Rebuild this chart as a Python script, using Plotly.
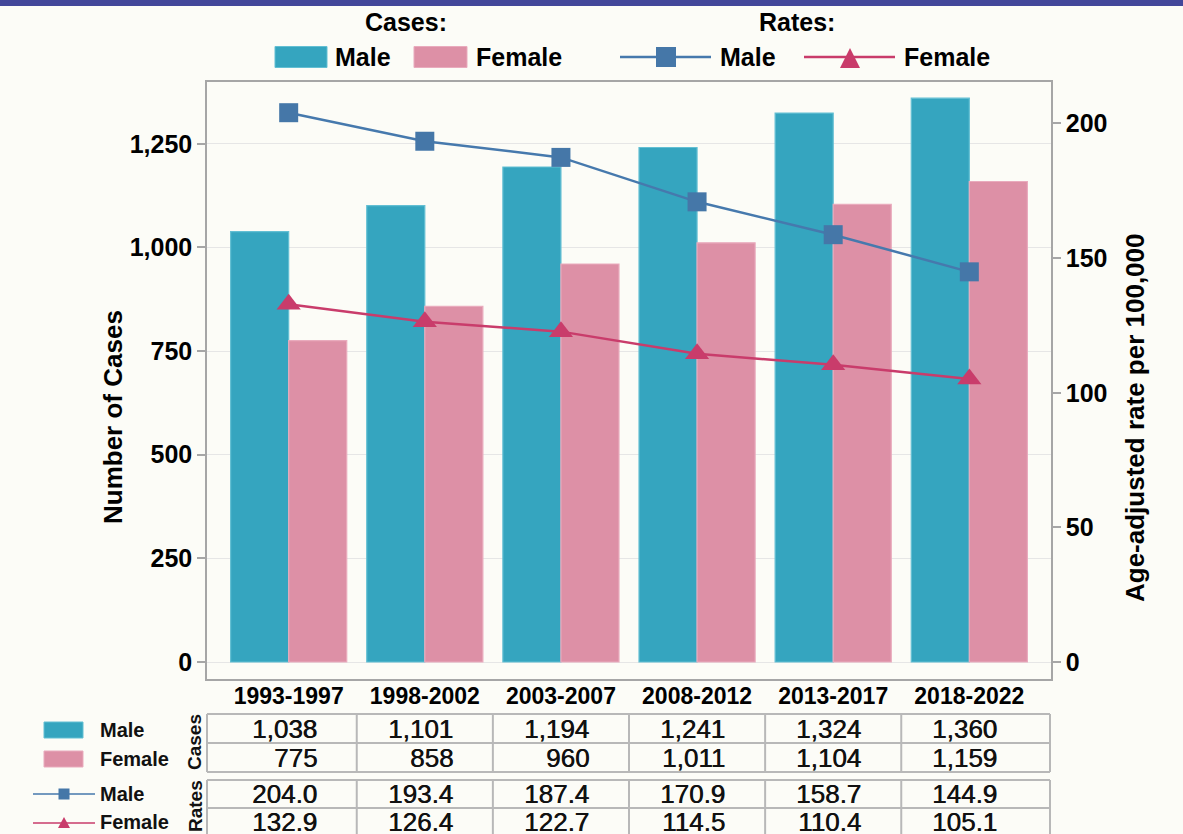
import plotly.graph_objects as go

# ---------------- data ----------------
periods = ["1993-1997", "1998-2002", "2003-2007", "2008-2012", "2013-2017", "2018-2022"]
cases_male = [1038, 1101, 1194, 1241, 1324, 1360]
cases_female = [775, 858, 960, 1011, 1104, 1159]
rate_male = [204.0, 193.4, 187.4, 170.9, 158.7, 144.9]
rate_female = [132.9, 126.4, 122.7, 114.5, 110.4, 105.1]
left_ticks = [0, 250, 500, 750, 1000, 1250]
right_ticks = [0, 50, 100, 150, 200]

# ---------------- geometry / style ----------------
W, H = 1183, 834
L, R, T, B = 207, 1051, 82, 679


def X(px):
    return (px - L) / (R - L)


def Y(py):
    return (B - py) / (B - T)


TEAL = "#35a5bf"
TEAL_EDGE = "#63bfd3"
PINK = "#dd90a6"
PINK_EDGE = "#e9abbd"
BLUE = "#4679ad"
BLUE_MK = "#4577a8"
RED = "#c93c6b"
BG = "#fcfcf7"
FRAME = "#a6a6a6"
TBL = "#b8b8b8"
FONT = "Liberation Sans, Arial, sans-serif"
BOLD = dict(family=FONT, size=25, color="#000000", weight="bold")
TITLE = dict(family=FONT, size=26, color="#000000", weight="bold")

fig = go.Figure()
fig.add_trace(go.Bar(x=periods, y=cases_male, name="Male", yaxis="y",
                     marker=dict(color=TEAL, line=dict(color=TEAL_EDGE, width=1.2)),
                     showlegend=False, hoverinfo="x+y"))
fig.add_trace(go.Bar(x=periods, y=cases_female, name="Female", yaxis="y",
                     marker=dict(color=PINK, line=dict(color=PINK_EDGE, width=1.2)),
                     showlegend=False, hoverinfo="x+y"))
fig.add_trace(go.Scatter(x=periods, y=rate_male, name="Male rate", yaxis="y2",
                         mode="lines+markers", line=dict(color=BLUE, width=2.5),
                         marker=dict(symbol="square", size=19, color=BLUE_MK),
                         showlegend=False))
fig.add_trace(go.Scatter(x=periods, y=rate_female, name="Female rate", yaxis="y2",
                         mode="lines+markers", line=dict(color=RED, width=2.5),
                         marker=dict(symbol="triangle-up", size=21, color=RED),
                         showlegend=False))

shapes = []
annotations = []

# top purple band
shapes.append(dict(type="rect", xref="paper", yref="paper", x0=X(0), x1=X(W), y0=Y(0), y1=Y(6),
                   fillcolor="#43479a", line=dict(width=0), layer="above"))

# ---------------- top legend ----------------
annotations.append(dict(text="Cases:", x=X(406), y=Y(22), xref="paper", yref="paper",
                        showarrow=False, font=BOLD, xanchor="center", yanchor="middle"))
annotations.append(dict(text="Rates:", x=X(797), y=Y(22), xref="paper", yref="paper",
                        showarrow=False, font=BOLD, xanchor="center", yanchor="middle"))
ly = 57
for (x0, x1, col, edge) in [(275, 327, TEAL, TEAL_EDGE), (414, 467, PINK, PINK_EDGE)]:
    shapes.append(dict(type="rect", xref="paper", yref="paper", x0=X(x0), x1=X(x1),
                       y0=Y(ly + 10.5), y1=Y(ly - 10.5), fillcolor=col,
                       line=dict(color=edge, width=1)))
for (xl, txt) in [(333, "Male"), (474, "Female"), (718, "Male"), (902, "Female")]:
    annotations.append(dict(text=txt, x=X(xl), y=Y(ly), xref="paper", yref="paper",
                            showarrow=False, font=BOLD, xanchor="left", yanchor="middle"))
# rate legend lines + markers
shapes.append(dict(type="line", xref="paper", yref="paper", x0=X(620), x1=X(711), y0=Y(ly), y1=Y(ly),
                   line=dict(color=BLUE, width=2.5)))
shapes.append(dict(type="rect", xref="paper", yref="paper", x0=X(656), x1=X(676), y0=Y(ly + 10), y1=Y(ly - 10),
                   fillcolor=BLUE_MK, line=dict(width=0)))
shapes.append(dict(type="line", xref="paper", yref="paper", x0=X(804), x1=X(895), y0=Y(ly), y1=Y(ly),
                   line=dict(color=RED, width=2.5)))
shapes.append(dict(type="path", xref="paper", yref="paper",
                   path=f"M {X(840)} {Y(68)} L {X(860)} {Y(68)} L {X(850)} {Y(48)} Z",
                   fillcolor=RED, line=dict(width=0)))

# ---------------- axis titles ----------------
annotations.append(dict(text="Number of Cases", x=X(113), y=Y(417), xref="paper", yref="paper",
                        showarrow=False, textangle=-90, font=TITLE, xanchor="center", yanchor="middle"))
annotations.append(dict(text="Age-adjusted rate per 100,000", x=X(1135), y=Y(418), xref="paper",
                        yref="paper", showarrow=False, textangle=-90, font=TITLE,
                        xanchor="center", yanchor="middle"))

# ---------------- data table ----------------
VAL = dict(family=FONT, size=26, color="#111111", shadow="0.6px 0 0 #111111")
rows = [
    (728.5, [f"{v:,}" for v in cases_male]),
    (757.5, [f"{v:,}" for v in cases_female]),
    (794.0, [f"{v:.1f}" for v in rate_male]),
    (822.0, [f"{v:.1f}" for v in rate_female]),
]
for (ry, texts) in rows:
    for p, t in zip(periods, texts):
        annotations.append(dict(text=t, x=p, xref="x", y=Y(ry), yref="paper", showarrow=False,
                                xanchor="right", yanchor="middle", xshift=30, font=VAL))

# table borders
for y in [714, 743, 772, 780, 808]:
    shapes.append(dict(type="line", xref="paper", yref="paper", x0=X(207), x1=X(1050),
                       y0=Y(y), y1=Y(y), line=dict(color=TBL, width=2)))
for (ya, yb) in [(714, 772), (780, 840)]:
    for xp in [X(207), X(1050)]:
        shapes.append(dict(type="line", xref="paper", yref="paper", x0=xp, x1=xp,
                           y0=Y(ya), y1=Y(yb), line=dict(color=TBL, width=2)))
    for i in range(len(periods) - 1):
        shapes.append(dict(type="line", xref="x", yref="paper", x0=i + 0.5, x1=i + 0.5,
                           y0=Y(ya), y1=Y(yb), line=dict(color=TBL, width=2)))

# table row legend
LAB = dict(family=FONT, size=20, color="#111111", weight="bold")
shapes.append(dict(type="rect", xref="paper", yref="paper", x0=X(44), x1=X(83), y0=Y(738), y1=Y(722),
                   fillcolor=TEAL, line=dict(color=TEAL_EDGE, width=1)))
shapes.append(dict(type="rect", xref="paper", yref="paper", x0=X(44), x1=X(83), y0=Y(767), y1=Y(751),
                   fillcolor=PINK, line=dict(color=PINK_EDGE, width=1)))
shapes.append(dict(type="line", xref="paper", yref="paper", x0=X(33), x1=X(95), y0=Y(794), y1=Y(794),
                   line=dict(color=BLUE, width=1.5)))
shapes.append(dict(type="rect", xref="paper", yref="paper", x0=X(58.5), x1=X(69.5), y0=Y(799.5), y1=Y(788.5),
                   fillcolor=BLUE_MK, line=dict(width=0)))
shapes.append(dict(type="line", xref="paper", yref="paper", x0=X(33), x1=X(95), y0=Y(823), y1=Y(823),
                   line=dict(color=RED, width=1.5)))
shapes.append(dict(type="path", xref="paper", yref="paper",
                   path=f"M {X(58)} {Y(828)} L {X(70)} {Y(828)} L {X(64)} {Y(817)} Z",
                   fillcolor=RED, line=dict(width=0)))
for (ty, txt) in [(730, "Male"), (759, "Female"), (794, "Male"), (822, "Female")]:
    annotations.append(dict(text=txt, x=X(98), y=Y(ty), xref="paper", yref="paper", showarrow=False,
                            xanchor="left", yanchor="middle", font=LAB))
annotations.append(dict(text="Cases", x=X(195), y=Y(742), xref="paper", yref="paper", showarrow=False,
                        textangle=-90, xanchor="center", yanchor="middle",
                        font=dict(family=FONT, size=19, color="#111111", weight="bold")))
annotations.append(dict(text="Rates", x=X(195), y=Y(806), xref="paper", yref="paper", showarrow=False,
                        textangle=-90, xanchor="center", yanchor="middle",
                        font=dict(family=FONT, size=19, color="#111111", weight="bold")))

fig.update_layout(
    width=W, height=H,
    margin=dict(l=L, r=W - R, t=T, b=H - B, pad=0),
    paper_bgcolor=BG, plot_bgcolor=BG,
    barmode="group", bargap=0.147, bargroupgap=0,
    font=dict(family=FONT, color="#000000"),
    xaxis=dict(type="category", range=[-0.6, len(periods) - 0.4], showline=True, mirror=True,
               linecolor=FRAME, linewidth=1.5, ticks="", showgrid=False, ticklabelstandoff=-4,
               tickfont=dict(family=FONT, size=23, color="#000000", weight="bold")),
    yaxis=dict(range=[-41, 1399], tickvals=left_ticks, tickformat=",d", ticks="outside", ticklen=8,
               tickcolor=FRAME, tickwidth=1.5, showline=True, linecolor=FRAME, linewidth=1.5,
               gridcolor="#e6e6e6", gridwidth=1, zeroline=False,
               tickfont=BOLD),
    yaxis2=dict(range=[-6.3, 215.4], tickvals=right_ticks, overlaying="y", side="right",
                ticks="outside", ticklen=8, tickcolor=FRAME, tickwidth=1.5, showline=True,
                linecolor=FRAME, linewidth=1.5, showgrid=False, zeroline=False, tickfont=BOLD),
    shapes=shapes,
    annotations=annotations,
)

fig.write_html("out.html", config={"displayModeBar": False},
               post_script="document.body.style.margin='0';document.body.style.background='" + BG + "';")
